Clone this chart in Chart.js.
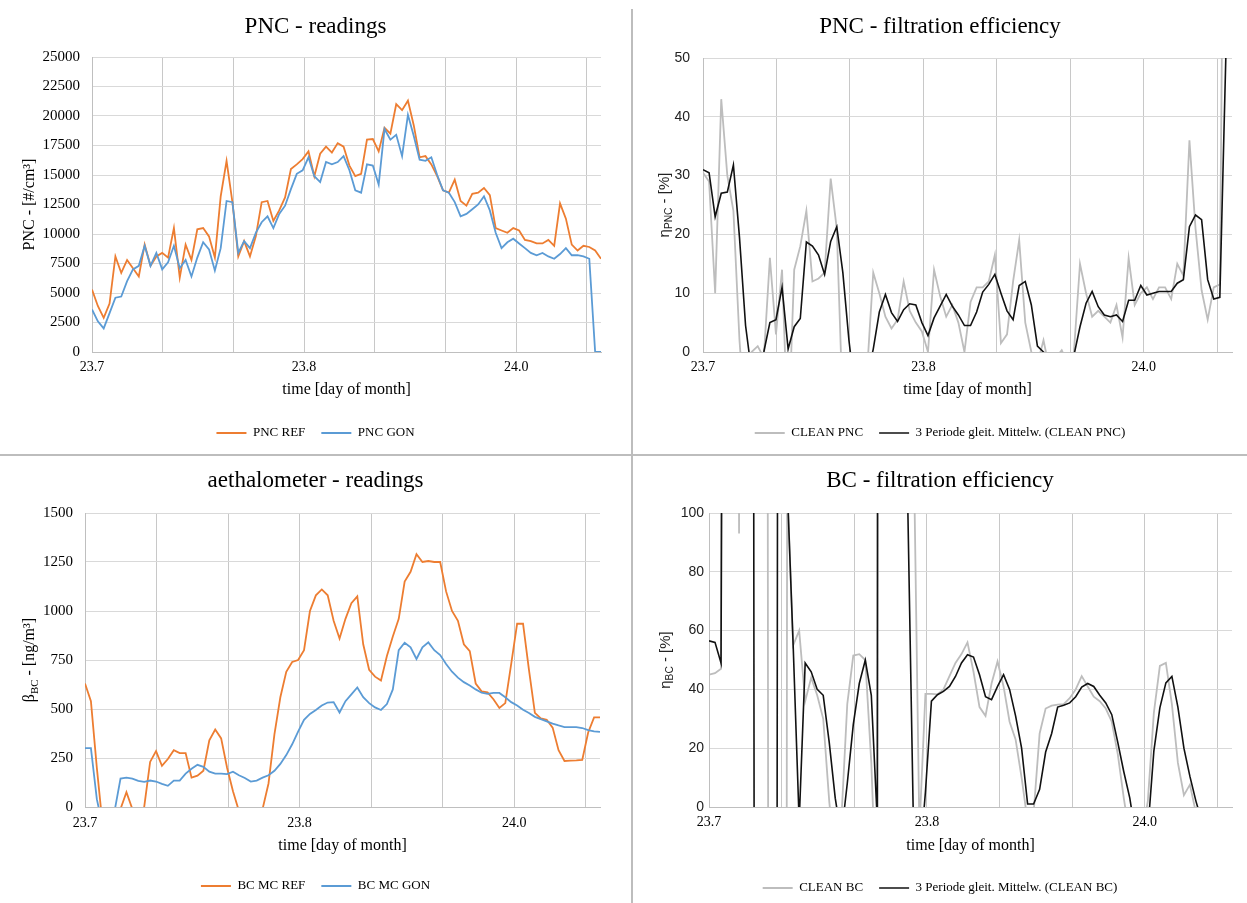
<!DOCTYPE html>
<html>
<head>
<meta charset="utf-8">
<script src="https://cdn.jsdelivr.net/npm/chart.js@4.4.1/dist/chart.umd.min.js"></script>
<style>
body { margin: 0; background: #fff; }
#wrap { position: relative; width: 1247px; height: 903px; overflow: hidden; background: #fff; }
canvas { position: absolute; }
.sep { position: absolute; background: #bdbdbd; }
</style>
</head>
<body>
<div id="wrap">
  <canvas id="pncRead" width="631" height="455" style="left:0;top:0;width:631px;height:455px"></canvas>
  <canvas id="pncEff" width="614" height="455" style="left:633px;top:0;width:614px;height:455px"></canvas>
  <canvas id="bcRead" width="631" height="446" style="left:0;top:457px;width:631px;height:446px"></canvas>
  <canvas id="bcEff" width="614" height="446" style="left:633px;top:457px;width:614px;height:446px"></canvas>
  <div class="sep" style="left:631px;top:9px;width:2px;height:894px"></div>
  <div class="sep" style="left:0;top:454px;width:1247px;height:2px"></div>
</div>
<script>
// time axis: day of month, gridline every 80 min, label every 3rd
const xStart = 23 + 2 / 3;
const xSpan = 0.4;
const gridStep = 1 / 18;
const xTickLabels = ['23.7', '', '', '23.8', '', '', '24.0', ''];
const nSamples = 88;
const sampleTimes = Array.from({length: nSamples}, (_, i) => xStart + i * xSpan / (nSamples - 1));

// PNC readings [#/cm3]
const pncRef = [5300, 3900, 2900, 4100, 8100, 6700, 7800, 7100, 6400, 9100,
  7300, 8100, 8400, 8000, 10500, 6300, 9100, 7800, 10400, 10500,
  9800, 8000, 13200, 16200, 12700, 8100, 9400, 8100, 9800, 12700,
  12800, 11100, 12000, 13100, 15500, 15900, 16350, 17000, 14900, 16800,
  17400, 16900, 17700, 17400, 15800, 14900, 15100, 18000, 18050, 17000,
  19000, 18500, 21000, 20500, 21300, 19200, 16500, 16600, 15900, 14900,
  13700, 13500, 14600, 12800, 12400, 13400, 13500, 13900, 13300, 10500,
  10300, 10100, 10500, 10300, 9500, 9400, 9200, 9200, 9500, 9000,
  12600, 11300, 9100, 8600, 9000, 8900, 8600, 7900];
const pncGon = [3600, 2600, 2000, 3300, 4600, 4700, 6000, 7000, 7300, 9000,
  7300, 8400, 7000, 7600, 9000, 7100, 7800, 6400, 8000, 9300,
  8700, 6900, 8800, 12800, 12700, 8400, 9400, 8800, 10100, 11000,
  11500, 10500, 11700, 12400, 13800, 15100, 15400, 16500, 14900, 14400,
  16100, 15900, 16100, 16600, 15400, 13700, 13500, 15900, 15800, 14200,
  18900, 18000, 18400, 16600, 20100, 18300, 16300, 16200, 16500, 15000,
  13700, 13500, 12700, 11500, 11700, 12100, 12500, 13200, 12000, 10100,
  8800, 9300, 9600, 9200, 8800, 8400, 8200, 8400, 8100, 7900,
  8300, 8800, 8200, 8200, 8100, 7900, 0, 0];

// PNC filtration efficiency [%]
const cleanPnc = [30.5, 29, 10, 43, 30, 24, 2, -12.5, 0, 1,
  -1, 16, 3, 14, -15, 14, 18, 24, 12, 12.5,
  13.5, 29.5, 21, -10, -5, -5, -5, -3, 13.5, 10,
  6, 4, 5.5, 12, 7, 5, 3.5, 0, 14, 9.5,
  6, 8, 5, 0, 8.5, 11, 11, 12, 16.5, 1.5,
  3, 12, 19, 5, 0, -2, 2, -3, -1, 0.3,
  -2, 0, 15, 10, 6, 7, 6, 5, 8, 2.5,
  16, 8, 10, 11, 9, 11, 11, 9, 15, 13,
  36, 21, 10.5, 5.5, 11, 11.5, 130, 130];
const cleanPncAvg = [31, 30.5, 23, 27, 27.2, 31.8, 19.5, 4.5, -3.5, -3.8,
  0, 5, 5.5, 11, 0.5, 4.3, 5.7, 18.7, 18, 16.5,
  13.2, 18.8, 21.3, 13.5, 2, -6.7, -5, -4.3, 0.5, 6.8,
  9.8, 6.7, 5.2, 7.2, 8.2, 8, 5, 2.8, 5.8, 7.8,
  9.8, 7.8, 6.3, 4.5, 4.5, 6.8, 10.2, 11.5, 13.2, 10,
  7, 5.5, 11.3, 12, 8, 1, 0, -1, -0.7, -1.2,
  -0.9, -0.6, 4.3, 8.3, 10.3, 7.7, 6.3, 6, 6.3, 5.2,
  8.8, 8.8, 11.3, 9.7, 10, 10.3, 10.3, 10.3, 11.7, 12.3,
  21.3, 23.3, 22.5, 12.3, 9, 9.3, 50.8, 90];

// aethalometer readings [ng/m3]
const bcRef = [630, 540, 200, -100, -300, -200, -10, 75, -10, -200,
  0, 230, 285, 210, 245, 290, 275, 275, 150, 160,
  185, 340, 395, 350, 200, 80, -20, -150, -150, -150,
  -10, 120, 370, 560, 690, 740, 750, 800, 1000, 1080,
  1110, 1080, 950, 860, 960, 1040, 1075, 830, 700, 665,
  645, 770, 870, 960, 1150, 1200, 1290, 1250, 1255, 1250,
  1250, 1100, 1000, 950, 830, 795, 630, 590, 585, 550,
  505, 530, 730, 935, 935, 700, 480, 452, 445, 405,
  290, 235, 237, 238, 240, 380, 457, 457];
const bcGon = [300, 300, 40, -100, -150, -20, 145, 150, 145, 133,
  128, 135, 130, 118, 108, 135, 135, 170, 195, 215,
  205, 180, 170, 170, 168, 180, 162, 148, 130, 135,
  150, 162, 185, 220, 265, 320, 385, 445, 475, 495,
  518, 533, 535, 482, 540, 575, 610, 560, 530, 508,
  495, 525, 600, 800, 838, 815, 755, 815, 840, 800,
  775, 730, 690, 660, 637, 620, 600, 583, 577, 582,
  582, 560, 535, 518, 496, 480, 460, 448, 437, 425,
  416, 408, 408, 408, 403, 392, 386, 383];

// BC filtration efficiency [%]
const cleanBc = [45, 45.5, 47, 1500, 900, 93, 900, 1200, 1000, 1500,
  -300, -1200, -1500, 110, 55, 60, 36, 44, 38, 30,
  2, -20, -5, 35, 51.5, 52, 50, 15, -40, 2500,
  2500, 2500, 2500, 2500, 130, -8, 38.5, 38.5, 38.3, 40,
  44.5, 49, 52, 56, 46, 34, 31, 42, 49.5, 41,
  29, 23, 10, -5, -2, 25, 33.5, 34.5, 34.8, 35,
  37, 40, 44.5, 41, 37.5, 36, 33.5, 29, 18, 3,
  -10, -15, -10, 2, 32, 48, 49, 35, 15, 4,
  7.6, -2, -20, -20, -20, -20, -20, -20];
const cleanBcAvg = [56.5, 56, 49, 600, 800, 900, 700, 900, -900, -900,
  -800, -600, 1200, 110, 55, -5, 49, 46, 40, 38,
  22, 3, -10, 8, 28, 42, 50, 38, -5, 3000,
  3000, 3000, 2500, 110, -5, -20, 5, 36, 38.2, 39.3,
  41, 44.4, 49, 51.8, 51, 45, 37.5, 36.5, 41, 45,
  40, 31, 20, 1, 1, 6, 18.7, 25, 34, 34.6,
  35.4, 37.5, 40.8, 42, 41, 38, 35.4, 31.4, 22, 12,
  3, -10, -12, -8, 19, 33.7, 42.2, 44.4, 34, 20,
  10.4, 2, -5, -20, -20, -20, -20, -20];

const serif = '"Liberation Serif", "Times New Roman", serif';
const sans = '"Liberation Sans", Arial, sans-serif';
const ORANGE = '#ED7D31', BLUE = '#5B9BD5', GREY = '#BDBDBD', BLACK = '#111111';

function toPoints(values) {
  return values.map((v, i) => ({x: sampleTimes[i], y: v}));
}

// rotated axis title with sub-script parts
function yTitlePlugin(parts, x, family, size, color) {
  return {
    id: 'yTitle',
    afterDraw(chart) {
      const ctx = chart.ctx, a = chart.chartArea;
      const fontOf = p => (p.sub ? size * 0.68 : size) + 'px ' + family;
      ctx.save();
      ctx.translate(x, (a.top + a.bottom) / 2);
      ctx.rotate(-Math.PI / 2);
      ctx.fillStyle = color;
      ctx.textAlign = 'left';
      ctx.textBaseline = 'middle';
      let total = 0;
      parts.forEach(p => { ctx.font = fontOf(p); total += ctx.measureText(p.text).width; });
      let cx = -total / 2;
      parts.forEach(p => {
        ctx.font = fontOf(p);
        ctx.fillText(p.text, cx, p.sub ? size * 0.3 : 0);
        cx += ctx.measureText(p.text).width;
      });
      ctx.restore();
    }
  };
}

function makeChart(id, L, spec) {
  const canvas = document.getElementById(id);
  const W = canvas.width, H = canvas.height;
  const titleLH = 23 * 1.2;
  const legFont = 13, legPad = 16;
  const xAxisH = L.legendY - legFont / 2 - legPad - L.bottom;
  const xTitleLH = 16 * 1.2;
  const tickLH = 14 * 1.2;
  return new Chart(canvas, {
    type: 'line',
    data: {
      datasets: spec.series.map(s => ({
        label: s.label,
        data: toPoints(s.values),
        borderColor: s.color,
        backgroundColor: s.color,
        borderWidth: s.width,
        pointRadius: 0,
        tension: 0,
        order: s.order
      }))
    },
    options: {
      responsive: false,
      animation: false,
      events: [],
      layout: {padding: {left: 0, right: 0, top: 0, bottom: H - L.legendY - legFont / 2 - 10}},
      plugins: {
        title: {
          display: true, text: spec.title, color: '#000',
          font: {family: serif, size: 23, weight: 'normal'},
          padding: {top: L.titleY - titleLH / 2, bottom: L.top - L.titleY - titleLH / 2}
        },
        legend: {
          position: 'bottom',
          labels: {
            usePointStyle: true, pointStyle: 'line', pointStyleWidth: 30,
            padding: legPad, color: '#000',
            font: {family: serif, size: legFont},
            sort: (a, b) => a.datasetIndex - b.datasetIndex
          }
        },
        tooltip: {enabled: false}
      },
      scales: {
        x: {
          type: 'linear',
          min: xStart,
          max: xStart + xSpan,
          afterBuildTicks: s => { s.ticks = xTickLabels.map((_, k) => ({value: xStart + k * gridStep})); },
          afterFit: s => { s.height = xAxisH; },
          grid: {color: '#c8c8c8', drawTicks: false},
          border: {color: '#bfbfbf'},
          ticks: {
            autoSkip: false, maxRotation: 0,
            padding: L.tickY - L.bottom - tickLH / 2,
            color: '#000', font: {family: serif, size: 14},
            callback: (v, k) => xTickLabels[k]
          },
          title: {
            display: true, text: 'time [day of month]', color: '#000',
            font: {family: serif, size: 16},
            padding: {top: 0, bottom: L.bottom + xAxisH - L.xTitleY - xTitleLH / 2}
          }
        },
        y: {
          min: spec.yMin, max: spec.yMax,
          afterFit: s => { s.width = L.left; },
          grid: {color: '#d9d9d9', drawTicks: false},
          border: {color: '#bfbfbf'},
          ticks: {
            stepSize: spec.yStep, padding: L.tickGap,
            color: spec.tickColor, font: {family: spec.tickFamily, size: spec.tickSize},
            callback: v => String(v)
          }
        },
        yPad: {
          position: 'right',
          afterFit: s => { s.width = W - L.right; },
          grid: {display: false},
          border: {display: false},
          ticks: {display: false}
        }
      }
    },
    plugins: [yTitlePlugin(spec.yTitle, L.yTitleX, spec.yTitleFamily, spec.yTitleSize, spec.tickColor)]
  });
}

makeChart('pncRead',
  {left: 92, right: 601, top: 57, bottom: 352, titleY: 27, tickY: 367, xTitleY: 390, legendY: 433, yTitleX: 30, tickGap: 12},
  {
    title: 'PNC - readings', yMin: 0, yMax: 25000, yStep: 2500,
    tickFamily: serif, tickSize: 15, tickColor: '#000', yTitleFamily: serif, yTitleSize: 16,
    yTitle: [{text: 'PNC - [#/cm³]'}],
    series: [
      {label: 'PNC REF', values: pncRef, color: ORANGE, width: 1.8, order: 1},
      {label: 'PNC GON', values: pncGon, color: BLUE, width: 1.8, order: 0}
    ]
  });

makeChart('pncEff',
  {left: 70, right: 599, top: 58, bottom: 352, titleY: 27, tickY: 367, xTitleY: 390, legendY: 433, yTitleX: 32, tickGap: 13},
  {
    title: 'PNC - filtration efficiency', yMin: 0, yMax: 50, yStep: 10,
    tickFamily: sans, tickSize: 14, tickColor: '#222', yTitleFamily: sans, yTitleSize: 15,
    yTitle: [{text: 'η'}, {text: 'PNC', sub: true}, {text: ' - [%]'}],
    series: [
      {label: 'CLEAN PNC', values: cleanPnc, color: GREY, width: 1.8, order: 1},
      {label: '3 Periode gleit. Mittelw. (CLEAN PNC)', values: cleanPncAvg, color: BLACK, width: 1.6, order: 0}
    ]
  });

makeChart('bcRead',
  {left: 85, right: 600, top: 56, bottom: 350, titleY: 24, tickY: 366, xTitleY: 389, legendY: 429, yTitleX: 30, tickGap: 12},
  {
    title: 'aethalometer - readings', yMin: 0, yMax: 1500, yStep: 250,
    tickFamily: serif, tickSize: 15, tickColor: '#000', yTitleFamily: serif, yTitleSize: 16,
    yTitle: [{text: 'β'}, {text: 'BC', sub: true}, {text: ' - [ng/m³]'}],
    series: [
      {label: 'BC MC REF', values: bcRef, color: ORANGE, width: 1.8, order: 1},
      {label: 'BC MC GON', values: bcGon, color: BLUE, width: 1.8, order: 0}
    ]
  });

makeChart('bcEff',
  {left: 76, right: 599, top: 56, bottom: 350, titleY: 24, tickY: 365, xTitleY: 389, legendY: 431, yTitleX: 33, tickGap: 5},
  {
    title: 'BC - filtration efficiency', yMin: 0, yMax: 100, yStep: 20,
    tickFamily: sans, tickSize: 14, tickColor: '#222', yTitleFamily: sans, yTitleSize: 15,
    yTitle: [{text: 'η'}, {text: 'BC', sub: true}, {text: ' - [%]'}],
    series: [
      {label: 'CLEAN BC', values: cleanBc, color: GREY, width: 1.8, order: 1},
      {label: '3 Periode gleit. Mittelw. (CLEAN BC)', values: cleanBcAvg, color: BLACK, width: 1.6, order: 0}
    ]
  });
</script>
</body>
</html>
